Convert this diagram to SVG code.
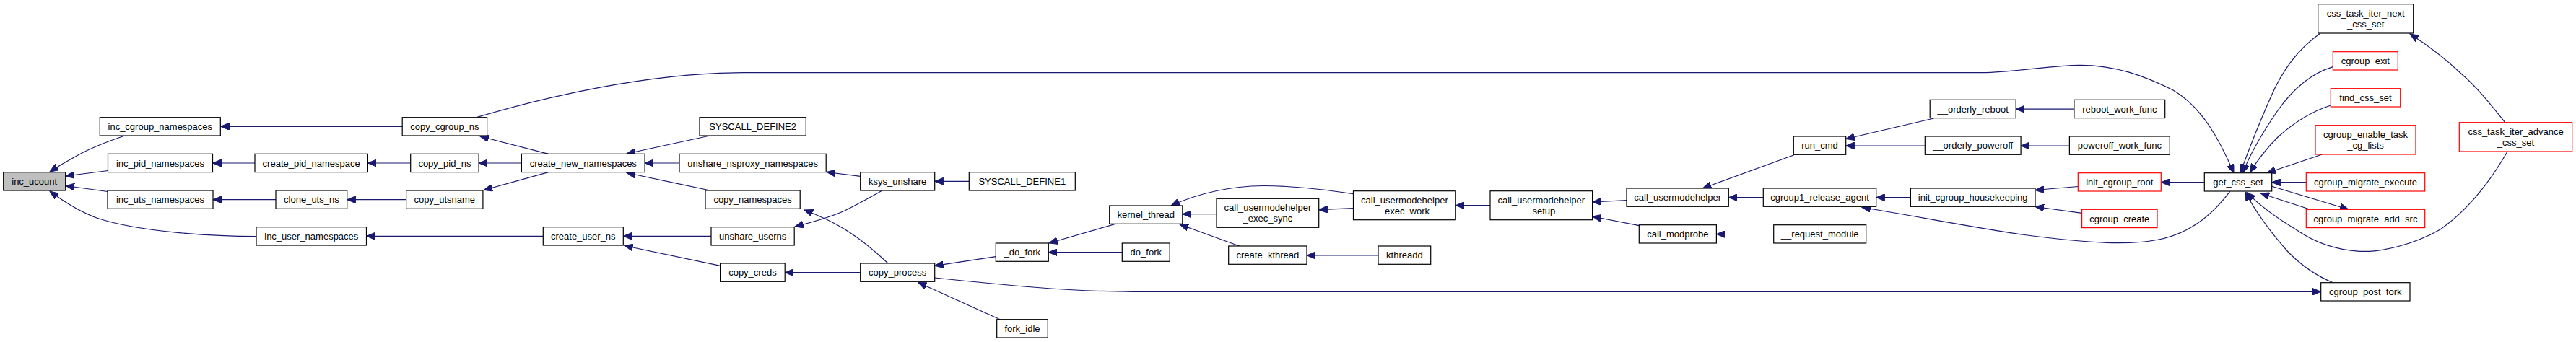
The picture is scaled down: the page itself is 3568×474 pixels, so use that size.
<svg xmlns="http://www.w3.org/2000/svg" width="3568" height="474" viewBox="0 0 3568 474">
<style>
.n rect{fill:#fff;stroke:#000;stroke-width:1.2}
.r rect{fill:#fff;stroke:#f00;stroke-width:1.2}
.root rect{fill:#bfbfbf;stroke:#000;stroke-width:1.2}
text{font-family:"Liberation Sans",Arial,Helvetica,sans-serif;font-size:13px;text-anchor:middle;fill:#000}
.e path{fill:none;stroke:#191970;stroke-width:1.2;marker-end:url(#ah)}
</style>
<defs>
<marker id="ah" markerUnits="userSpaceOnUse" markerWidth="13" markerHeight="10" refX="12" refY="5" orient="auto">
<path d="M0,0 L12,5 L0,10 z" fill="#191970" stroke="#191970" stroke-width="1"/>
</marker>
</defs>
<rect width="3568" height="474" fill="#fff"/>
<g id="connectors" class="e">
<path d="M173,188 C155,194 128,204 108,215 C95,222 83,229 69,238"/>
<path d="M149.5,236.5 L91,244"/>
<path d="M149,265.5 L91,257.5"/>
<path d="M355,327.5 C290,327.5 190,321 134,302 C112,294 92,282 69,265"/>
<path d="M353,226 L294.5,226"/>
<path d="M382,276.7 L295,276.7"/>
<path d="M557,175.3 L305.5,175.3"/>
<path d="M568.7,226 L509.4,226"/>
<path d="M562.6,276.7 L480.7,276.7"/>
<path d="M752.3,327.3 L507.5,327.3"/>
<path d="M759.6,213.3 L665,189"/>
<path d="M722.4,226 L663.1,226"/>
<path d="M759.6,238.7 L670,263.5"/>
<path d="M660,162.7 C760,133 900,100.7 1030,100.7 L2740,100.7 C2790,100.7 2840,90.3 2881,90.3 C2930,90.3 2970,105 3010,125 C3050,148 3075,195 3094,239.7"/>
<path d="M983.4,188 L868,213"/>
<path d="M941,226 L893.1,226"/>
<path d="M983.4,264 L868,239.5"/>
<path d="M1191.7,244.3 L1145,238.5"/>
<path d="M1222,264 C1208,272 1190,282 1170,292 C1150,301 1125,308 1101,314"/>
<path d="M1230,365 C1212,348 1193,332 1172,319 C1155,308 1135,299 1114,291"/>
<path d="M985,327.3 L863.3,327.3"/>
<path d="M997.6,368.3 L864.8,340.5"/>
<path d="M1191.7,377.7 L1087.2,377.7"/>
<path d="M1342.3,251.3 L1294.7,251.3"/>
<path d="M1379.3,355.7 L1294.7,368.3"/>
<path d="M1385,442.7 L1271.7,391.5"/>
<path d="M1294.7,385 C1380,394 1480,404.3 1570,404.3 L3214.7,404.3"/>
<path d="M1544,310.7 L1453,337"/>
<path d="M1554.3,349.7 L1452.3,349.7"/>
<path d="M1685,296.7 L1637.8,296.7"/>
<path d="M1874.3,268.7 C1830,262 1790,257.5 1750,257.5 C1700,258 1660,268 1622,285"/>
<path d="M1716.7,341 L1634,311"/>
<path d="M1909,354 L1810,354"/>
<path d="M1874.3,288.7 L1826.7,290.7"/>
<path d="M2064,284.7 L2016.2,284.7"/>
<path d="M2253,277.7 L2205.6,280"/>
<path d="M2270.3,312.7 L2205.6,300"/>
<path d="M2485,214.7 L2358.3,261"/>
<path d="M2442.3,273.7 L2394.3,273.7"/>
<path d="M2456.7,324.5 L2377.4,324.5"/>
<path d="M2678.5,164 L2556.7,192.5"/>
<path d="M2666.3,202 L2556.7,202"/>
<path d="M2872.9,151.2 L2792.2,151.2"/>
<path d="M2866.4,202 L2799.1,202"/>
<path d="M2646.4,273.7 L2598.7,273.7"/>
<path d="M3088.7,265.3 C3070,290 3040,322 2990,332 C2950,340 2900,338 2800,325 C2720,313 2640,297 2579,287.5"/>
<path d="M2878.3,258.5 L2819,263.5"/>
<path d="M2883.6,295.3 L2819,286.5"/>
<path d="M3053.3,252.7 L2993.3,252.7"/>
<path d="M3213,46.7 C3180,70 3160,100 3145,135 C3125,180 3112,215 3103,239.7"/>
<path d="M3231.3,92.7 C3200,102 3175,125 3155,153 C3135,182 3118,210 3106.3,239.7"/>
<path d="M3228.3,146 C3200,155 3175,172 3155,190 C3140,205 3128,220 3116.3,239"/>
<path d="M3216.3,214 L3140,239.7"/>
<path d="M3194.3,252.7 L3146.7,252.7"/>
<path d="M3146.7,258.3 L3253,290.3"/>
<path d="M3199.7,290.3 L3131.3,268"/>
<path d="M3473,210 C3450,250 3420,290 3380,318 C3345,338 3300,350 3268,348.3 C3230,346 3200,332 3180,318 C3150,300 3130,285 3112,266.7"/>
<path d="M3469.7,169.7 C3450,145 3430,120 3410,103 C3390,84 3365,64 3338,47"/>
<path d="M3231.3,391.7 C3210,383 3190,370 3170,350 C3145,322 3125,295 3109.7,266"/>
</g>
<g id="inc_ucount" class="root"><rect x="4.7" y="238.7" width="86" height="25.3"/><text x="47.7" y="256">inc_ucount</text></g>
<g id="inc_cgroup_namespaces" class="n"><rect x="138.3" y="162.7" width="167" height="25.3"/><text x="221.8" y="179.9">inc_cgroup_namespaces</text></g>
<g id="inc_pid_namespaces" class="n"><rect x="149.5" y="213.3" width="145" height="25.3"/><text x="222" y="230.5">inc_pid_namespaces</text></g>
<g id="inc_uts_namespaces" class="n"><rect x="149" y="264" width="146" height="25.3"/><text x="222" y="281.2">inc_uts_namespaces</text></g>
<g id="inc_user_namespaces" class="n"><rect x="355" y="314.7" width="152.5" height="25.3"/><text x="431.3" y="331.9">inc_user_namespaces</text></g>
<g id="create_pid_namespace" class="n"><rect x="353" y="213.3" width="156.4" height="25.3"/><text x="431.2" y="230.5">create_pid_namespace</text></g>
<g id="clone_uts_ns" class="n"><rect x="382" y="264" width="98.7" height="25.3"/><text x="431.4" y="281.2">clone_uts_ns</text></g>
<g id="copy_cgroup_ns" class="n"><rect x="557.2" y="162.7" width="117.4" height="25.3"/><text x="615.9" y="179.9">copy_cgroup_ns</text></g>
<g id="copy_pid_ns" class="n"><rect x="568.7" y="213.3" width="94.4" height="25.3"/><text x="615.9" y="230.5">copy_pid_ns</text></g>
<g id="copy_utsname" class="n"><rect x="562.6" y="264" width="106.3" height="25.3"/><text x="615.8" y="281.2">copy_utsname</text></g>
<g id="create_new_namespaces" class="n"><rect x="722.4" y="213.3" width="170.7" height="25.3"/><text x="807.8" y="230.5">create_new_namespaces</text></g>
<g id="SYSCALL_DEFINE2" class="n"><rect x="969" y="162.7" width="147.3" height="25.3"/><text x="1042.7" y="179.9">SYSCALL_DEFINE2</text></g>
<g id="unshare_nsproxy_namespaces" class="n"><rect x="941" y="213.3" width="203.2" height="25.3"/><text x="1042.6" y="230.5">unshare_nsproxy_namespaces</text></g>
<g id="copy_namespaces" class="n"><rect x="977" y="264" width="131.2" height="25.3"/><text x="1042.6" y="281.2">copy_namespaces</text></g>
<g id="create_user_ns" class="n"><rect x="752.3" y="314.7" width="111" height="25.3"/><text x="807.8" y="331.9">create_user_ns</text></g>
<g id="unshare_userns" class="n"><rect x="985" y="314.7" width="115.2" height="25.3"/><text x="1042.6" y="331.9">unshare_userns</text></g>
<g id="copy_creds" class="n"><rect x="997.6" y="365" width="89.6" height="25.3"/><text x="1042.4" y="382.2">copy_creds</text></g>
<g id="ksys_unshare" class="n"><rect x="1191.7" y="238.7" width="103" height="25.3"/><text x="1243.2" y="256">ksys_unshare</text></g>
<g id="SYSCALL_DEFINE1" class="n"><rect x="1342.3" y="238.7" width="147" height="25.3"/><text x="1415.8" y="256">SYSCALL_DEFINE1</text></g>
<g id="copy_process" class="n"><rect x="1191.7" y="365" width="103" height="25.3"/><text x="1243.2" y="382.2">copy_process</text></g>
<g id="_do_fork" class="n"><rect x="1379.3" y="337" width="73" height="25.3"/><text x="1415.8" y="354.2">_do_fork</text></g>
<g id="fork_idle" class="n"><rect x="1380.7" y="442.7" width="70.6" height="25.3"/><text x="1416" y="459.9">fork_idle</text></g>
<g id="kernel_thread" class="n"><rect x="1536.7" y="285" width="101.1" height="25.3"/><text x="1587.3" y="302.2">kernel_thread</text></g>
<g id="do_fork" class="n"><rect x="1554.3" y="337" width="65.9" height="25.3"/><text x="1587.3" y="354.2">do_fork</text></g>
<g id="call_usermodehelper_exec_sync" class="n"><rect x="1685" y="275.3" width="141.7" height="40"/><text x="1755.9" y="292.3">call_usermodehelper</text><text x="1755.9" y="307.3">_exec_sync</text></g>
<g id="create_kthread" class="n"><rect x="1701.7" y="341" width="108.3" height="25.3"/><text x="1755.9" y="358.2">create_kthread</text></g>
<g id="call_usermodehelper_exec_work" class="n"><rect x="1874.5" y="264.7" width="141.7" height="40"/><text x="1945.4" y="281.7">call_usermodehelper</text><text x="1945.4" y="296.7">_exec_work</text></g>
<g id="kthreadd" class="n"><rect x="1909" y="341" width="72.7" height="25.3"/><text x="1945.4" y="358.2">kthreadd</text></g>
<g id="call_usermodehelper_setup" class="n"><rect x="2064" y="264.7" width="141.6" height="40"/><text x="2134.8" y="281.7">call_usermodehelper</text><text x="2134.8" y="296.7">_setup</text></g>
<g id="call_usermodehelper" class="n"><rect x="2253" y="261" width="141.3" height="25.3"/><text x="2323.7" y="278.2">call_usermodehelper</text></g>
<g id="call_modprobe" class="n"><rect x="2270.3" y="311.7" width="107.1" height="25.3"/><text x="2323.9" y="328.9">call_modprobe</text></g>
<g id="run_cmd" class="n"><rect x="2484.3" y="189" width="72.4" height="25.3"/><text x="2520.5" y="206.2">run_cmd</text></g>
<g id="cgroup1_release_agent" class="n"><rect x="2442.3" y="261" width="156.4" height="25.3"/><text x="2520.5" y="278.2">cgroup1_release_agent</text></g>
<g id="__request_module" class="n"><rect x="2456.7" y="311.7" width="128" height="25.3"/><text x="2520.7" y="328.9">__request_module</text></g>
<g id="__orderly_reboot" class="n"><rect x="2673.2" y="138.3" width="119" height="25.3"/><text x="2732.7" y="155.5">__orderly_reboot</text></g>
<g id="__orderly_poweroff" class="n"><rect x="2666.3" y="189" width="132.8" height="25.3"/><text x="2732.7" y="206.2">__orderly_poweroff</text></g>
<g id="init_cgroup_housekeeping" class="n"><rect x="2646.4" y="261" width="172.6" height="25.3"/><text x="2732.7" y="278.2">init_cgroup_housekeeping</text></g>
<g id="reboot_work_func" class="n"><rect x="2872.9" y="138.3" width="125.8" height="25.3"/><text x="2935.8" y="155.5">reboot_work_func</text></g>
<g id="poweroff_work_func" class="n"><rect x="2866.4" y="189" width="138.9" height="25.3"/><text x="2935.9" y="206.2">poweroff_work_func</text></g>
<g id="init_cgroup_root" class="r"><rect x="2878.3" y="239.7" width="115" height="25.3"/><text x="2935.8" y="256.9">init_cgroup_root</text></g>
<g id="cgroup_create" class="r"><rect x="2883.6" y="290.3" width="104.4" height="25.3"/><text x="2935.8" y="307.5">cgroup_create</text></g>
<g id="get_css_set" class="n"><rect x="3053.3" y="239.7" width="93.4" height="25.3"/><text x="3100" y="256.9">get_css_set</text></g>
<g id="css_task_iter_next_css_set" class="n"><rect x="3210.7" y="5.7" width="132" height="40.3"/><text x="3276.7" y="22.9">css_task_iter_next</text><text x="3276.7" y="37.9">_css_set</text></g>
<g id="cgroup_exit" class="r"><rect x="3231.3" y="71.7" width="90" height="25.3"/><text x="3276.3" y="88.9">cgroup_exit</text></g>
<g id="find_css_set" class="r"><rect x="3228.3" y="122.7" width="96.4" height="25.3"/><text x="3276.5" y="139.9">find_css_set</text></g>
<g id="cgroup_enable_task_cg_lists" class="r"><rect x="3207" y="173.7" width="139" height="40.3"/><text x="3276.5" y="190.9">cgroup_enable_task</text><text x="3276.5" y="205.9">_cg_lists</text></g>
<g id="cgroup_migrate_execute" class="r"><rect x="3194.3" y="239.7" width="164.4" height="25.3"/><text x="3276.5" y="256.9">cgroup_migrate_execute</text></g>
<g id="cgroup_migrate_add_src" class="r"><rect x="3194.3" y="290.3" width="164.4" height="25.3"/><text x="3276.5" y="307.5">cgroup_migrate_add_src</text></g>
<g id="cgroup_post_fork" class="n"><rect x="3214.7" y="391.7" width="123.3" height="25.3"/><text x="3276.3" y="408.9">cgroup_post_fork</text></g>
<g id="css_task_iter_advance_css_set" class="r"><rect x="3406.3" y="169.7" width="156.4" height="40.3"/><text x="3484.5" y="186.9">css_task_iter_advance</text><text x="3484.5" y="201.9">_css_set</text></g>
</svg>
